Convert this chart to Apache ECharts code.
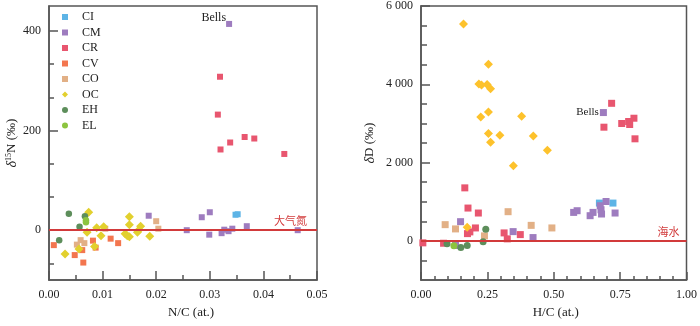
<!DOCTYPE html>
<html>
<head>
<meta charset="utf-8">
<script src="https://cdn.jsdelivr.net/npm/echarts@6/dist/echarts.min.js"></script>
<style>
  html, body { margin: 0; padding: 0; background: #fff; }
  #chart { width: 700px; height: 326px; }
</style>
</head>
<body>
<div id="chart"></div>
<script>
// left panel: N/C (at.) vs d15N (permil)
const nCI = [[0.0348, 31], [0.0352, 32]]
const nCM = [[0.0257, 0], [0.0285, 26], [0.0300, 36], [0.0299, -9], [0.0322, -6], [0.0327, 1],
  [0.0335, -2], [0.0342, 3], [0.0369, 8], [0.0464, 0], [0.0186, 29]]
const nBells = [[0.0336, 414]]
const nCR = [[0.0319, 308], [0.0315, 232], [0.0365, 187], [0.0383, 184], [0.0338, 176], [0.0320, 162], [0.0439, 153]]
const nCV = [[0.0009, -30], [0.0048, -50], [0.0064, -65], [0.0062, -40], [0.0082, -21], [0.0087, -35],
  [0.0115, -17], [0.0129, -26]]
const nCO = [[0.0052, -29], [0.0059, -20], [0.0066, -26], [0.0105, 3], [0.0200, 18], [0.0204, 3]]
const nOC = [[0.0030, -48], [0.0056, -38], [0.0071, -4], [0.0074, 36], [0.0085, -33], [0.0089, 5],
  [0.0097, -11], [0.0102, 7], [0.0142, -7], [0.0146, -11], [0.0150, -13], [0.0150, 27], [0.0150, 11],
  [0.0165, -4], [0.0168, 1], [0.0171, 8], [0.0188, -12]]
const nEH = [[0.0019, -20], [0.0037, 33], [0.0057, 7], [0.0067, 28]]
const nEL = [[0.0069, 16], [0.0069, 20]]

// right panel: H/C (at.) vs dD (permil)
const dCI = [[0.672, 965], [0.723, 965]]
const dCM = [[0.149, 490], [0.347, 236], [0.422, 84], [0.130, -119], [0.575, 727], [0.588, 770],
  [0.637, 643], [0.648, 727], [0.675, 897], [0.678, 795], [0.680, 686], [0.697, 1006], [0.731, 711]]
const dBells = [[0.687, 3278]]
const dCR = [[0.718, 3514], [0.689, 2904], [0.756, 2998], [0.782, 3049], [0.786, 2973], [0.802, 3133],
  [0.806, 2607], [0.165, 1354], [0.177, 838], [0.216, 711], [0.205, 330], [0.184, 229], [0.175, 185],
  [0.007, -51], [0.085, -61], [0.313, 203], [0.325, 51], [0.374, 160]]
const dCO = [[0.091, 414], [0.130, 305], [0.328, 745], [0.239, 127], [0.415, 396], [0.493, 330]]
const dOC = [[0.160, 5540], [0.254, 4513], [0.218, 4005], [0.228, 3980], [0.249, 3997], [0.262, 3888],
  [0.254, 3293], [0.225, 3166], [0.379, 3184], [0.254, 2744], [0.297, 2701], [0.423, 2676],
  [0.262, 2516], [0.476, 2312], [0.348, 1921], [0.174, 346]]
const dEH = [[0.098, -76], [0.150, -170], [0.174, -119], [0.234, -25], [0.244, 295]]
const dEL = [[0.124, -127]]

const nTicksMajor = [0, 200, 400]
const nTicksMinor = [-66.667, 66.667, 133.333, 266.667, 333.333]
const dTicksMajor = [0, 2000, 4000, 6000]
const dTicksMinor = [-500, 500, 1000, 1500, 2500, 3000, 3500, 4500, 5000, 5500]

const colors = {
  CI: '#5db4e6', CM: '#9e7cbf', CR: '#e8566f', CV: '#f3764f', CO: '#e2b086',
  OC: '#e2d02e', OC2: '#fdc22c', EH: '#5d8e5b', EL: '#8cc43f'
}

const FONT = 'Liberation Serif'
const AX = '#555'
const RED = '#d23a3b'

const chart = echarts.init(document.getElementById('chart'))

const sc = (name, data, xi, yi, symbol, size, color) => ({
  type: 'scatter', name, data, xAxisIndex: xi, yAxisIndex: yi,
  symbol, symbolSize: size, itemStyle: { color, opacity: 1 }
})

const xBase = (gi, min, max, interval, minorSplit, majorLen, minorLen, name, shift) => ({
  type: 'value', gridIndex: gi, min, max, interval,
  name, nameLocation: 'middle', nameGap: 26,
  nameTextStyle: { fontFamily: FONT, fontSize: 13, color: '#222', padding: [0, 0, 0, shift] },
  axisLine: { show: true, onZero: false, lineStyle: { color: AX, width: 1.5 } },
  axisTick: { show: true, inside: true, length: majorLen, lineStyle: { color: AX, width: 1.5 } },
  minorTick: { show: true, splitNumber: minorSplit, length: minorLen, lineStyle: { color: AX, width: 1.5 } },
  splitLine: { show: false },
  axisLabel: { formatter: v => v.toFixed(2), fontFamily: FONT, fontSize: 12, color: '#222', margin: 9 }
})

const yMain = (gi, min, max, ticks, fmt, name, gap) => ({
  type: 'value', gridIndex: gi, min, max, position: 'left',
  name, nameLocation: 'middle', nameGap: gap,
  nameTextStyle: {
    fontFamily: FONT, fontSize: 13, color: '#222',
    rich: {
      i: { fontFamily: FONT, fontSize: 14, fontStyle: 'italic', color: '#222' },
      sup: { fontFamily: FONT, fontSize: 8, color: '#222', padding: [0, 0, 6, 0] },
      t: { fontFamily: FONT, fontSize: 13, color: '#222' }
    }
  },
  axisLine: { show: true, onZero: false, lineStyle: { color: AX, width: 1.5 } },
  axisTick: { show: true, inside: true, length: 9, customValues: ticks, lineStyle: { color: AX, width: 1.5 } },
  splitLine: { show: false },
  axisLabel: { customValues: ticks, formatter: fmt, fontFamily: FONT, fontSize: 12, color: '#222', margin: 8 }
})

const yMinor = (gi, min, max, ticks, len) => ({
  type: 'value', gridIndex: gi, min, max, position: 'left',
  axisLine: { show: false },
  axisTick: { show: true, inside: true, length: len, customValues: ticks, lineStyle: { color: AX, width: 1.5 } },
  splitLine: { show: false },
  axisLabel: { show: false }
})

const thousands = v => String(v).replace(/\B(?=(\d{3})+$)/g, ' ')

const refLine = (text, dist) => ({
  silent: true, symbol: 'none', animation: false,
  lineStyle: { color: RED, width: 2, type: 'solid' },
  label: { position: 'insideEndTop', formatter: text, color: RED, fontSize: 11,
    fontFamily: 'Noto Sans CJK SC', distance: dist },
  data: [{ yAxis: 0 }]
})

const bellsLabel = (size, offset, dist) => ({
  show: true, formatter: 'Bells', position: 'left', distance: dist, offset,
  fontFamily: FONT, fontSize: size, color: '#222'
})

const left = [
  Object.assign(sc('CI', nCI, 0, 0, 'rect', 6, colors.CI), { markLine: refLine('大气氮', [10, 4]) }),
  sc('CM', nCM, 0, 0, 'rect', 6, colors.CM),
  Object.assign(sc('CM', nBells, 0, 0, 'rect', 6, colors.CM), { label: bellsLabel(12, [0, -6], 0) }),
  sc('CR', nCR, 0, 0, 'rect', 6, colors.CR),
  sc('CV', nCV, 0, 0, 'rect', 6, colors.CV),
  sc('CO', nCO, 0, 0, 'rect', 6, colors.CO),
  sc('OC', nOC, 0, 0, 'diamond', 9, colors.OC),
  sc('EH', nEH, 0, 0, 'circle', 6.5, colors.EH),
  sc('EL', nEL, 0, 0, 'circle', 6.5, colors.EL)
]

const right = [
  Object.assign(sc('CI', dCI, 1, 2, 'rect', 7, colors.CI), { markLine: refLine('海水', [7, 4]) }),
  sc('CM', dCM, 1, 2, 'rect', 7, colors.CM),
  Object.assign(sc('CM', dBells, 1, 2, 'rect', 7, colors.CM), { label: bellsLabel(11, [0, 0], 1) }),
  sc('CR', dCR, 1, 2, 'rect', 7, colors.CR),
  sc('CO', dCO, 1, 2, 'rect', 7, colors.CO),
  sc('OC', dOC, 1, 2, 'diamond', 9, colors.OC2),
  sc('EL', dEL, 1, 2, 'circle', 7, colors.EL),
  sc('EH', dEH, 1, 2, 'circle', 7, colors.EH)
]

chart.setOption({
  animation: false,
  backgroundColor: '#fff',
  grid: [
    { left: 49, top: 6, width: 268, height: 274, show: true, borderColor: AX, borderWidth: 1.5 },
    { left: 421, top: 6, width: 268, height: 274, show: true, borderColor: AX, borderWidth: 1.5 }
  ],
  legend: {
    orient: 'vertical', left: 62, top: 11, padding: 0, itemWidth: 6, itemHeight: 6, itemGap: 3.5,
    data: ['CI', 'CM', 'CR', 'CV', 'CO', 'OC', 'EH', 'EL'],
    textStyle: { fontFamily: FONT, fontSize: 12, color: '#222', padding: [0, 0, 0, 9] }
  },
  xAxis: [
    xBase(0, 0, 0.05, 0.01, 2, 9, 5, 'N/C (at.)', 16),
    xBase(1, 0, 1, 0.25, 5, 8, 4, 'H/C (at.)', 4)
  ],
  yAxis: [
    yMain(0, -100, 450, nTicksMajor, v => String(v), '{i|δ}{sup|15}{t|N (‰)}', 30),
    yMinor(0, -100, 450, nTicksMinor, 5),
    yMain(1, -1000, 6000, dTicksMajor, thousands, '{i|δ}{t|D (‰)}', 44),
    yMinor(1, -1000, 6000, dTicksMinor, 6)
  ],
  series: left.concat(right)
})
</script>
</body>
</html>
